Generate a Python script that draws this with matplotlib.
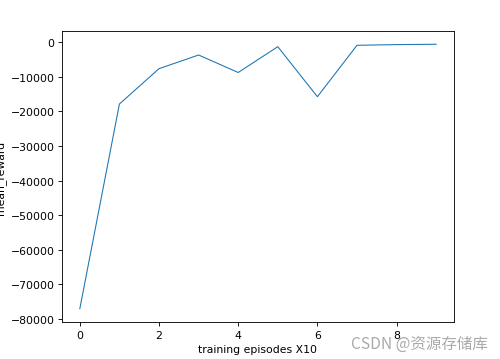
import matplotlib
matplotlib.use("Agg")
import matplotlib.pyplot as plt

# training curve
episodes = [0, 1, 2, 3, 4, 5, 6, 7, 8, 9]
mean_reward = [-77000, -17900, -7700, -3750, -8800, -1350, -15800, -950, -750, -650]

def main():
	dpi = 78
	fig = plt.figure(figsize=(500 / dpi, 360 / dpi), dpi=dpi)
	ax = fig.add_axes([0.124, 0.103, 0.784, 0.808])
	ax.plot(episodes, mean_reward, linewidth=1)
	ax.set_xlabel('training episodes X10')
	ax.set_ylabel('mean_reward')

	# watermark
	fig.text(0.976, 0.044, 'CSDN @资源存储库', ha='right', va='center',
		fontsize=14.3, color='#aaaaaa',
		family=['Noto Sans CJK SC', 'DejaVu Sans'])

	fig.savefig('out.png', dpi=dpi)

if __name__ == '__main__':
	main()
